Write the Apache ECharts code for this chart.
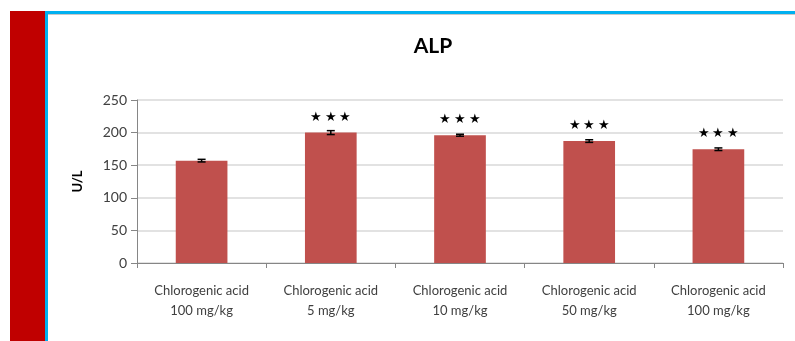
<!DOCTYPE html>
<html>
<head>
<meta charset="utf-8">
<script src="https://cdn.jsdelivr.net/npm/echarts@6/dist/echarts.min.js"></script>
<style>
  html, body { margin: 0; padding: 0; background: #fff; }
  #chart { width: 795px; height: 341px; }
</style>
</head>
<body>
<div id="chart"></div>
<script>
// ALP values per group (U/L)
const categories = [
  'Chlorogenic acid\n100 mg/kg',
  'Chlorogenic acid\n5 mg/kg',
  'Chlorogenic acid\n10 mg/kg',
  'Chlorogenic acid\n50 mg/kg',
  'Chlorogenic acid\n100 mg/kg'
];
const alpValues = [157, 200, 196, 187, 174.5];
const alpErrors = [2, 3, 1.5, 2, 2];
const marks = ['', '★\u2009★\u2009★', '★\u2009★\u2009★', '★\u2009★\u2009★', '★\u2009★\u2009★'];
const yTicks = [0, 50, 100, 150, 200, 250];

const chart = echarts.init(document.getElementById('chart'));

const option = {
  backgroundColor: '#fff',
  animation: false,
  title: {
    text: 'ALP',
    left: 428,
    top: 31,
    textAlign: 'center',
    textStyle: { fontFamily: 'Lato', fontWeight: 'bold', fontSize: 21, color: '#000' }
  },
  // slide decoration: red band and blue frame lines
  graphic: [
    { type: 'rect', shape: { x: 10, y: 11, width: 35, height: 330 }, style: { fill: '#C00000' } },
    { type: 'rect', shape: { x: 45, y: 11, width: 3, height: 330 }, style: { fill: '#00B0F0' } },
    { type: 'rect', shape: { x: 45, y: 11, width: 750, height: 3 }, style: { fill: '#00B0F0' } },
    { type: 'rect', shape: { x: 48, y: 14, width: 747, height: 1 }, style: { fill: '#c8c8c8' } }
  ],
  grid: { left: 137, right: 12, top: 100, bottom: 78 },
  xAxis: {
    type: 'category',
    data: categories,
    axisLine: { lineStyle: { color: '#868686' } },
    axisTick: { show: true, length: 5, lineStyle: { color: '#868686' } },
    axisLabel: {
      color: '#404040', fontFamily: 'Lato', fontSize: 13, lineHeight: 20, margin: 18, interval: 0
    }
  },
  yAxis: {
    type: 'value',
    min: yTicks[0],
    max: yTicks[yTicks.length - 1],
    interval: 50,
    name: 'U/L',
    nameLocation: 'middle',
    nameGap: 53,
    nameTextStyle: { fontFamily: 'Lato', fontWeight: 'bold', fontSize: 13, color: '#000' },
    axisLine: { show: true, lineStyle: { color: '#868686' } },
    axisTick: { show: true, length: 6, lineStyle: { color: '#868686' } },
    axisLabel: { color: '#404040', fontFamily: 'Lato', fontSize: 14, margin: 10 },
    splitLine: { lineStyle: { color: '#d9d9d9', width: 1.5 } }
  },
  series: [
    {
      type: 'bar',
      data: alpValues,
      barWidth: '40%',
      itemStyle: { color: '#C0504D' },
      label: {
        show: true,
        position: 'top',
        distance: 9,
        formatter: (p) => marks[p.dataIndex],
        fontSize: 13,
        color: '#000'
      }
    },
    {
      type: 'custom',
      z: 5,
      data: alpValues.map((v, i) => [i, v - alpErrors[i], v + alpErrors[i]]),
      renderItem: (params, api) => {
        const lo = api.coord([api.value(0), api.value(1)]);
        const hi = api.coord([api.value(0), api.value(2)]);
        const cap = 4;
        const style = { stroke: '#000', lineWidth: 1.5 };
        return {
          type: 'group',
          children: [
            { type: 'line', shape: { x1: lo[0], y1: lo[1], x2: hi[0], y2: hi[1] }, style },
            { type: 'line', shape: { x1: lo[0] - cap, y1: lo[1], x2: lo[0] + cap, y2: lo[1] }, style },
            { type: 'line', shape: { x1: hi[0] - cap, y1: hi[1], x2: hi[0] + cap, y2: hi[1] }, style }
          ]
        };
      }
    }
  ]
};

chart.setOption(option);
</script>
</body>
</html>
